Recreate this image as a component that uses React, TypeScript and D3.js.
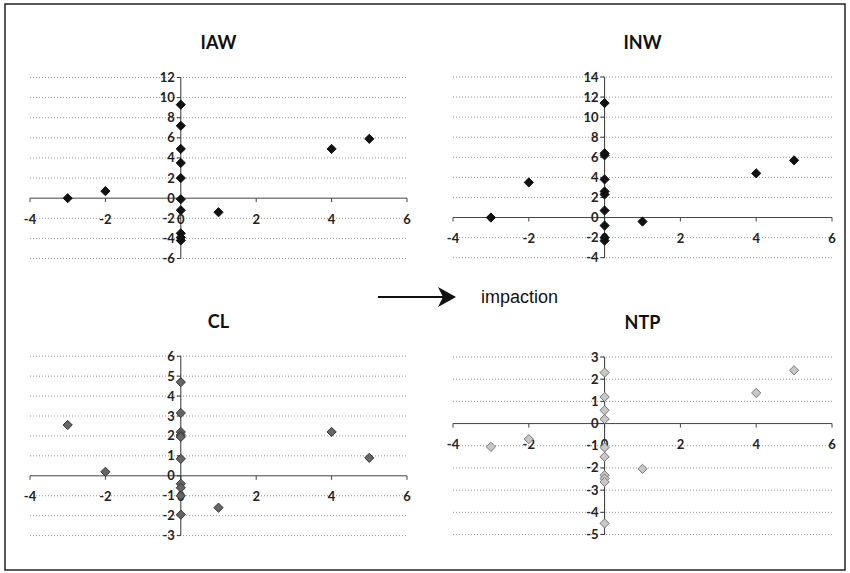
import React from 'react';
import * as d3 from 'd3';

// x ticks shared by all four panels
const xTicks = [-4, -2, 0, 2, 4, 6];

// IAW
const iawX = [-3, -2, 0, 0, 0, 0, 0, 0, 0, 0, 0, 0, 1, 4, 5];
const iawY = [0, 0.7, 9.3, 7.2, 4.9, 3.5, 2.0, -0.1, -1.2, -3.5, -3.9, -4.2, -1.4, 4.9, 5.9];
const iawTicks = [-6, -4, -2, 0, 2, 4, 6, 8, 10, 12];

// INW
const inwX = [-3, -2, 0, 0, 0, 0, 0, 0, 0, 0, 0, 0, 1, 4, 5];
const inwY = [0, 3.5, 11.4, 6.4, 6.2, 3.8, 2.6, 2.3, 0.7, -0.8, -2.0, -2.3, -0.4, 4.4, 5.7];
const inwTicks = [-4, -2, 0, 2, 4, 6, 8, 10, 12, 14];

// CL
const clX = [-3, -2, 0, 0, 0, 0, 0, 0, 0, 0, 0, 0, 1, 4, 5];
const clY = [2.55, 0.2, 4.7, 3.15, 2.2, 2.05, 1.95, 0.85, -0.4, -0.6, -1.0, -1.95, -1.6, 2.2, 0.9];
const clTicks = [-3, -2, -1, 0, 1, 2, 3, 4, 5, 6];

// NTP
const ntpX = [-3, -2, 0, 0, 0, 0, 0, 0, 0, 0, 0, 0, 1, 4, 5];
const ntpY = [-1.05, -0.7, 2.3, 1.2, 0.6, 0.2, -1.08, -1.5, -2.33, -2.48, -2.63, -4.5, -2.04, 1.38, 2.4];
const ntpTicks = [-5, -4, -3, -2, -1, 0, 1, 2, 3];

const fmt = (v: number) => (v < 0 ? '-' + Math.abs(v) : String(v));

const diamond = d3.symbol().type(d3.symbolDiamond2).size(54);

type PanelProps = {
  title: string;
  titleY: number;
  xs: number[];
  ys: number[];
  yTicks: number[];
  xRange: [number, number];
  yRange: [number, number];
  fill: string;
  stroke: string;
};

const Panel = ({ title, titleY, xs, ys, yTicks, xRange, yRange, fill, stroke }: PanelProps) => {
  const x = d3.scaleLinear().domain([-4, 6]).range(xRange);
  const y = d3.scaleLinear()
    .domain([yTicks[0], yTicks[yTicks.length - 1]])
    .range(yRange);
  const x0 = x(0);
  const y0 = y(0);

  return (
    <g>
      <text x={(xRange[0] + xRange[1]) / 2} y={titleY} textAnchor="middle"
        fontFamily="Lato, 'Open Sans', sans-serif" fontWeight="bold" fontSize={18} fill="#111">
        {title}
      </text>

      {/* gridlines */}
      {yTicks.filter(t => t !== 0).map(t => (
        <line key={'g' + t} x1={xRange[0]} x2={xRange[1]} y1={y(t)} y2={y(t)}
          stroke="#999" strokeWidth={1} strokeDasharray="1,2" />
      ))}

      {/* x axis */}
      <line x1={xRange[0]} x2={xRange[1]} y1={y0} y2={y0} stroke="#444" strokeWidth={1} />
      {xTicks.map(t => (
        <line key={'xt' + t} x1={x(t)} x2={x(t)} y1={y0} y2={y0 + 4} stroke="#444" />
      ))}

      {/* y axis */}
      <line x1={x0} x2={x0} y1={y(yTicks[0])} y2={y(yTicks[yTicks.length - 1])} stroke="#333" strokeWidth={1} />
      {yTicks.map(t => (
        <line key={'yt' + t} x1={x0 - 4} x2={x0} y1={y(t)} y2={y(t)} stroke="#333" />
      ))}

      {/* y tick labels */}
      {yTicks.map(t => (
        <text key={'yl' + t} x={x0 - 6} y={y(t)} dy="0.35em" textAnchor="end"
          fontFamily="Lato, sans-serif" fontWeight="bold" fontSize={13} fill="#222">
          {fmt(t)}
        </text>
      ))}

      {/* x tick labels */}
      {xTicks.map(t => (
        <text key={'xl' + t} x={x(t)} y={y0 + 21} dy="0.35em" textAnchor="middle"
          fontFamily="Lato, sans-serif" fontWeight="bold" fontSize={13} fill="#222">
          {fmt(t)}
        </text>
      ))}

      {/* points */}
      {xs.map((v, i) => (
        <path key={'p' + i} d={diamond() as string}
          transform={`translate(${x(v)},${y(ys[i])})`}
          fill={fill} stroke={stroke} strokeWidth={1} />
      ))}
    </g>
  );
};

const App = () => {
  const left: [number, number] = [30, 407];
  const right: [number, number] = [453, 832];
  return (
    <svg width={850} height={573} style={{ position: 'absolute', left: 0, top: 0 }}>
      <rect x={0} y={0} width={850} height={573} fill="#fff" />
      <rect x={5} y={4} width={840} height={566} fill="none" stroke="#222" strokeWidth={1.5} />

      <Panel title="IAW" titleY={49} xs={iawX} ys={iawY} yTicks={iawTicks}
        xRange={left} yRange={[258.5, 77.5]} fill="#111" stroke="#111" />
      <Panel title="INW" titleY={49} xs={inwX} ys={inwY} yTicks={inwTicks}
        xRange={right} yRange={[257.7, 77]} fill="#111" stroke="#111" />
      <Panel title="CL" titleY={328} xs={clX} ys={clY} yTicks={clTicks}
        xRange={left} yRange={[535.6, 356.2]} fill="#666" stroke="#333" />
      <Panel title="NTP" titleY={329} xs={ntpX} ys={ntpY} yTicks={ntpTicks}
        xRange={right} yRange={[534.5, 357]} fill="#c8c8c8" stroke="#777" />

      {/* arrow */}
      <line x1={378} x2={446} y1={297} y2={297} stroke="#111" strokeWidth={2} />
      <path d="M 456 297 L 438 287 L 443 297 L 438 307 Z" fill="#111" />
      <text x={481} y={297} dy="0.35em" fontFamily="Arial, 'Liberation Sans', sans-serif"
        fontSize={18} fill="#111">
        impaction
      </text>
    </svg>
  );
};

export default App;
